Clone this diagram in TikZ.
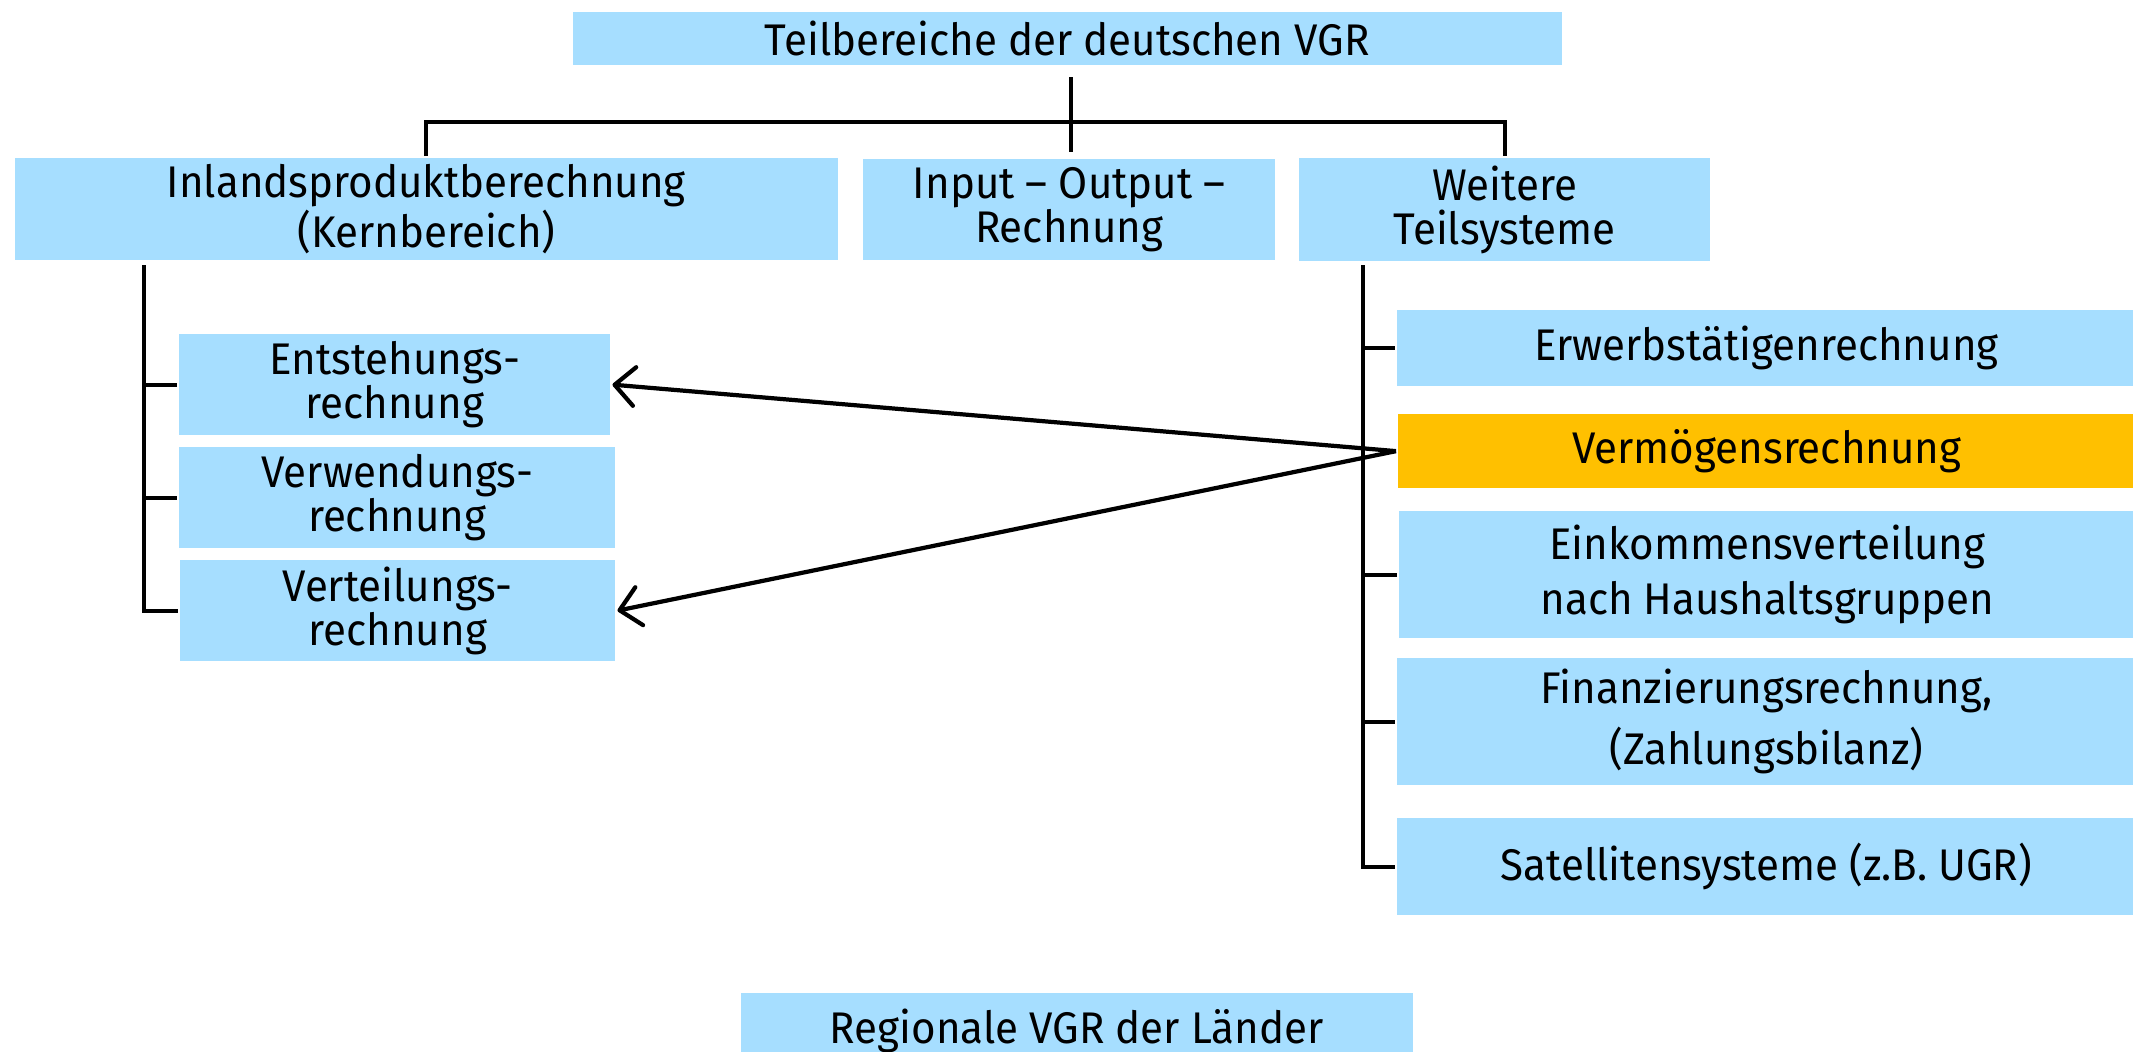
\documentclass[tikz,border=0pt]{standalone}
\usepackage{fontspec}
\setmainfont[FakeStretch=0.95]{Fira Sans}
\usepackage{tikz}
\usetikzlibrary{arrows.meta}
\usepackage{xcolor}
\definecolor{hellblau}{RGB}{166,222,255}
\definecolor{vgrorange}{RGB}{255,192,0}

\begin{document}
\begin{tikzpicture}[%
    x=0.01cm,
    y=-0.01cm,
    line width=1.2pt,
    >={Straight Barb[length=5.7pt,width=11pt,round]},
    feld/.style={%
      fill=hellblau,
      anchor=north west,
      align=center,
      inner sep=0pt,
      font=\fontsize{12.6}{12.6}\selectfont
    }
  ]
    \useasboundingbox (0,0) rectangle (2133,1051);

    \node[feld,minimum width=9.88cm,minimum height=0.53cm] (vgr) at (571,10)  {Teilbereiche der deutschen VGR};
    \node[feld,minimum width=8.22cm,minimum height=1.02cm] (inl) at (13,156)  {Inlandsproduktberechnung\\(Kernbereich)};
    \node[feld,minimum width=4.12cm,minimum height=1.01cm] (io)  at (861,157) {Input -- Output --\\Rechnung};
    \node[feld,minimum width=4.11cm,minimum height=1.03cm] (wts) at (1297,156) {Weitere\\Teilsysteme};

    \node[feld,minimum width=4.31cm,minimum height=1.01cm] (ent) at (177,332) {Entstehungs-\\rechnung};
    \node[feld,minimum width=4.36cm,minimum height=1.01cm] (vw)  at (177,445) {Verwendungs-\\rechnung};
    \node[feld,minimum width=4.35cm,minimum height=1.01cm] (vt)  at (178,558) {Verteilungs-\\rechnung};

    \node[feld,minimum width=7.38cm,minimum height=0.76cm] (erw)  at (1395,308) {Erwerbstätigenrechnung};
    \node[feld,fill=vgrorange,minimum width=7.37cm,minimum height=0.74cm] (verm) at (1396,412) {Vermögensrechnung};
    \node[feld,minimum width=7.36cm,minimum height=1.27cm] (eink) at (1397,509) {Einkommensverteilung\\[3pt]nach Haushaltsgruppen};
    \node[feld,minimum width=7.38cm,minimum height=1.27cm] (fin)  at (1395,656) {Finanzierungsrechnung,\\[3pt](Zahlungsbilanz)};
    \node[feld,minimum width=7.38cm,minimum height=0.97cm] (sat)  at (1395,816) {Satellitensysteme (z.B. UGR)};

    \node[feld,minimum width=6.71cm,minimum height=0.76cm] (reg)  at (739,991) {Regionale VGR der Länder};

    % oberer Baum
    \coordinate (bar) at (1071,122);
    \coordinate (mk) at (1071,77);
    \draw (mk) -- ++(0,75);
    \draw (inl.north) |- (bar) -| (wts.north);

    % linker Baum
    \coordinate (lk) at (144,265);
    \draw (lk) |- (vt.west);
    \draw (lk |- ent.west) -- (ent.west);
    \draw (lk |- vw.west) -- (vw.west);

    % rechter Baum
    \coordinate (rk) at (1363,265);
    \draw (rk) |- (sat.west);
    \foreach \n in {erw,eink,fin}
      \draw (rk |- \n.west) -- (\n.west);

    \draw[->] (verm.west) -- (ent.east);
    \draw[->] (verm.west) -- (vt.east);
  \end{tikzpicture}
\end{document}
